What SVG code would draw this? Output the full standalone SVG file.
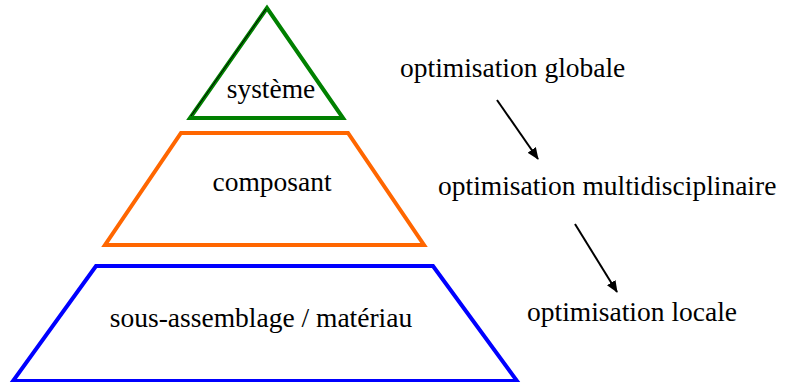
<svg xmlns="http://www.w3.org/2000/svg" width="787" height="382" viewBox="0 0 787 382">
<style>
.lvl{fill:none;stroke-width:4;stroke-linejoin:miter}
.t{font-size:27.5px;fill:#000}
.c{stroke:#000;stroke-width:2;fill:none}
</style>
<defs>
<marker id="ah" markerWidth="12" markerHeight="10" refX="11" refY="5" orient="auto" markerUnits="userSpaceOnUse">
<path d="M0,0 L12,5 L0,10 Z" fill="#000"/>
</marker>
</defs>
<rect width="787" height="382" fill="#fff"/>
<g font-family="Liberation Serif, Times New Roman, Times, serif">
<g id="systeme">
<polygon class="lvl" points="267,8 190,118 343,118" stroke="#008000"/>
<line x1="266" y1="9" x2="191" y2="116" stroke="#000" stroke-width="1"/>
<text class="t" x="271" y="98" text-anchor="middle">système</text>
</g>
<g id="composant">
<polygon class="lvl" points="181,133 348,133 424,245 105,245" stroke="#FF6600"/>
<text class="t" x="272" y="191" text-anchor="middle">composant</text>
</g>
<g id="sous-assemblage">
<polygon class="lvl" points="96,266 433,266 517,381 13,381" stroke="#0000FF"/>
<text class="t" x="261" y="327" text-anchor="middle">sous-assemblage / matériau</text>
</g>
<g id="opt-globale"><text class="t" x="400" y="77">optimisation globale</text></g>
<g id="opt-multi"><text class="t" x="438" y="195">optimisation multidisciplinaire</text></g>
<g id="opt-locale"><text class="t" x="527" y="321">optimisation locale</text></g>
</g>
<g id="connectors">
<line class="c" x1="497" y1="100" x2="538" y2="159" marker-end="url(#ah)"/>
<line class="c" x1="575" y1="224" x2="617" y2="292" marker-end="url(#ah)"/>
</g>
</svg>
